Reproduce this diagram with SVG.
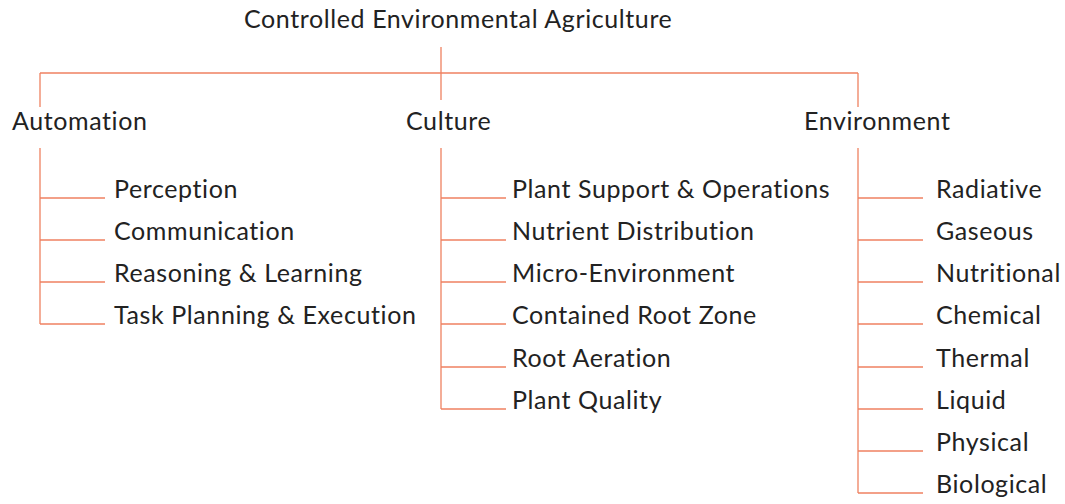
<svg xmlns="http://www.w3.org/2000/svg" width="1065" height="504" viewBox="0 0 1065 504">
<style>
text{font-family:"Lato","Noto Sans",sans-serif;font-size:25px;letter-spacing:0.6px;fill:#222;}
.c line{stroke:#EF8160;stroke-width:1.3;fill:none;}
</style>
<rect width="1065" height="504" fill="#fff"/>
<g class="c" id="connectors">
<line x1="441" y1="47" x2="441" y2="100"/>
<line x1="40" y1="73" x2="858" y2="73"/>
<line x1="40" y1="73" x2="40" y2="107"/>
<line x1="858" y1="73" x2="858" y2="107"/>
<line x1="40" y1="148" x2="40" y2="324"/>
<line x1="40" y1="198" x2="105" y2="198"/>
<line x1="40" y1="240" x2="105" y2="240"/>
<line x1="40" y1="282" x2="105" y2="282"/>
<line x1="40" y1="324" x2="105" y2="324"/>
<line x1="441" y1="148" x2="441" y2="409"/>
<line x1="441" y1="198" x2="506" y2="198"/>
<line x1="441" y1="240" x2="506" y2="240"/>
<line x1="441" y1="282" x2="506" y2="282"/>
<line x1="441" y1="324" x2="506" y2="324"/>
<line x1="441" y1="367" x2="506" y2="367"/>
<line x1="441" y1="409" x2="506" y2="409"/>
<line x1="858" y1="148" x2="858" y2="493"/>
<line x1="858" y1="198" x2="923" y2="198"/>
<line x1="858" y1="240" x2="923" y2="240"/>
<line x1="858" y1="282" x2="923" y2="282"/>
<line x1="858" y1="324" x2="923" y2="324"/>
<line x1="858" y1="367" x2="923" y2="367"/>
<line x1="858" y1="409" x2="923" y2="409"/>
<line x1="858" y1="451" x2="923" y2="451"/>
<line x1="858" y1="493" x2="923" y2="493"/>
</g>
<g id="root"><text x="244" y="28">Controlled Environmental Agriculture</text></g>
<g id="automation"><text x="12" y="130">Automation</text></g>
<g id="culture"><text x="406" y="130">Culture</text></g>
<g id="environment"><text x="804" y="130">Environment</text></g>
<g id="a1"><text x="114" y="198">Perception</text></g>
<g id="a2"><text x="114" y="240">Communication</text></g>
<g id="a3"><text x="114" y="282">Reasoning &amp; Learning</text></g>
<g id="a4"><text x="114" y="324">Task Planning &amp; Execution</text></g>
<g id="c1"><text x="512" y="198">Plant Support &amp; Operations</text></g>
<g id="c2"><text x="512" y="240">Nutrient Distribution</text></g>
<g id="c3"><text x="512" y="282">Micro-Environment</text></g>
<g id="c4"><text x="512" y="324">Contained Root Zone</text></g>
<g id="c5"><text x="512" y="367">Root Aeration</text></g>
<g id="c6"><text x="512" y="409">Plant Quality</text></g>
<g id="e1"><text x="936" y="198">Radiative</text></g>
<g id="e2"><text x="936" y="240">Gaseous</text></g>
<g id="e3"><text x="936" y="282">Nutritional</text></g>
<g id="e4"><text x="936" y="324">Chemical</text></g>
<g id="e5"><text x="936" y="367">Thermal</text></g>
<g id="e6"><text x="936" y="409">Liquid</text></g>
<g id="e7"><text x="936" y="451">Physical</text></g>
<g id="e8"><text x="936" y="493">Biological</text></g>
</svg>
